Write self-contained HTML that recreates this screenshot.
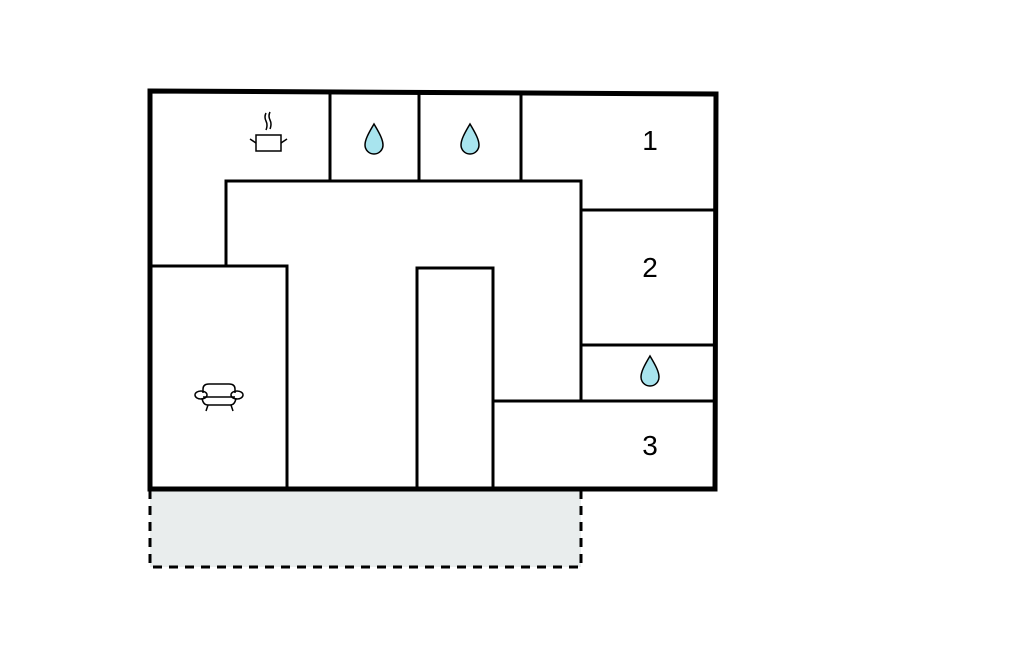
<!DOCTYPE html>
<html><head><style>body{margin:0;background:#fff}svg{display:block}</style></head><body>
<svg width="1024" height="652" viewBox="0 0 1024 652" xmlns="http://www.w3.org/2000/svg">
<rect x="150" y="489" width="431" height="78" fill="#e9eded" stroke="#000" stroke-width="3" stroke-dasharray="9,7"/>
<g stroke="#000" stroke-width="3" fill="none">
<line x1="330" y1="92" x2="330" y2="181"/>
<line x1="419" y1="92" x2="419" y2="181"/>
<line x1="521" y1="92" x2="521" y2="181"/>
<polyline points="226,266 226,181 581,181 581,401"/>
<polyline points="150,266 287,266 287,489"/>
<line x1="581" y1="210" x2="715" y2="210"/>
<line x1="581" y1="345" x2="715" y2="345"/>
<line x1="493" y1="401" x2="715" y2="401"/>
<polyline points="417,489 417,268 493,268 493,489"/>
</g>
<polygon points="150,91 716,94 715,489 150,489" fill="none" stroke="#000" stroke-width="5"/>
<g font-family="Liberation Sans, sans-serif" font-size="28" text-anchor="middle">
<text x="650" y="150">1</text><text x="650" y="277">2</text><text x="650" y="455">3</text>
</g>
<g fill="#a8e4ee" stroke="#000" stroke-width="1.5">
<path d="M374,124 C368,134 365,140 365,145 A9,9 0 0 0 383,145 C383,140 380,134 374,124Z"/>
<path d="M470,124 C464,134 461,140 461,145 A9,9 0 0 0 479,145 C479,140 476,134 470,124Z"/>
<path d="M650,356 C644,366 641,372 641,377 A9,9 0 0 0 659,377 C659,372 656,366 650,356Z"/>
</g>
<g stroke="#000" stroke-width="1.5" fill="none">
<rect x="256" y="135" width="25" height="16"/>
<line x1="250" y1="139" x2="256" y2="143"/><line x1="287" y1="139" x2="281" y2="143"/>
<path d="M266,113 q-2,4 0,8 q2,4 0,9 M270,112 q-2,4 0,8 q2,4 0,9"/>
<path d="M203,393 v-4 q0,-5 6,-5 h20 q6,0 6,5 v4 M203,397 h32 M202,398 q1,7 6,7 h22 q5,0 6,-7 M208,405 l-2,6 M231,405 l2,6"/>
<ellipse cx="201" cy="395" rx="6" ry="4"/><ellipse cx="237" cy="395" rx="6" ry="4"/>
</g>
</svg>
</body></html>
